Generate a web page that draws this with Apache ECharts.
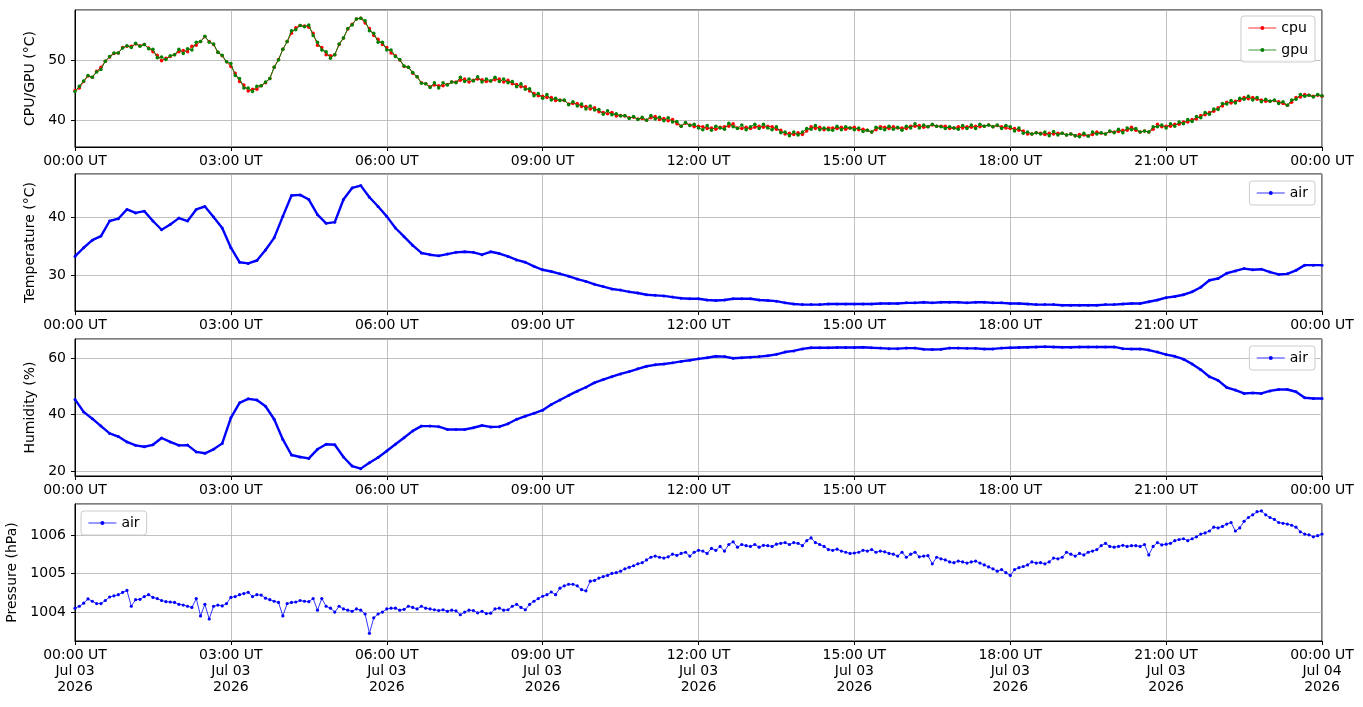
<!DOCTYPE html>
<html>
<head>
<meta charset="utf-8">
<script src="https://cdn.jsdelivr.net/npm/echarts@6/dist/echarts.min.js"></script>
<style>
html, body { margin: 0; padding: 0; background: #fff; }
#main { width: 1363px; height: 707px; }
</style>
</head>
<body>
<div id="main"></div>
<script>
// sample spacing in hours
var fiveMin = 5 / 60;
var tenMin = 10 / 60;

// x ticks
var tickHours = [0, 3, 6, 9, 12, 15, 18, 21, 24];
var timeLabels = ['00:00 UT', '03:00 UT', '06:00 UT', '09:00 UT', '12:00 UT', '15:00 UT', '18:00 UT', '21:00 UT', '00:00 UT'];
var dateLabels = ['Jul 03', 'Jul 03', 'Jul 03', 'Jul 03', 'Jul 03', 'Jul 03', 'Jul 03', 'Jul 03', 'Jul 04'];
var yearLabel = '2026';

// cpu temperature, one value per 5 minutes (one row per hour)
var cpu = [
    45.0,45.4,46.5,47.4,47.2,48.2,48.9,49.9,50.6,51.2,51.3,52.2,
    52.4,52.4,52.8,52.5,52.7,52.1,51.5,50.9,50.0,50.4,50.7,51.0,
    51.5,51.7,51.5,52.4,52.6,53.2,54.0,53.2,52.7,51.4,50.8,49.8,
    49.0,47.9,46.5,45.9,44.9,45.2,45.2,45.8,46.3,47.0,48.9,50.2,
    51.9,53.2,54.6,55.5,55.9,55.8,55.6,54.6,52.6,52.2,51.0,50.8,
    51.0,52.7,53.8,55.3,56.1,57.0,57.1,56.3,55.4,54.2,53.6,52.7,
    52.2,51.3,50.8,50.1,49.0,48.9,47.9,47.3,46.3,46.1,45.6,45.9,
    45.8,45.8,46.0,46.4,46.4,46.7,46.9,46.4,46.7,46.9,46.8,46.5,
    46.6,46.8,46.9,46.4,46.7,46.1,46.0,45.6,45.6,44.9,44.5,44.1,
    44.0,43.8,43.8,43.3,43.4,43.3,42.7,42.8,42.8,42.3,42.3,41.9,
    42.1,41.4,41.3,41.1,41.3,40.7,40.8,40.7,40.4,40.5,40.2,40.3,
    40.0,40.4,40.6,40.1,40.3,39.9,40.1,39.4,39.0,39.5,39.2,38.9,
    39.0,38.9,38.6,38.7,38.5,38.8,38.9,39.0,39.4,38.7,38.6,38.8,
    38.6,38.8,39.0,38.8,39.0,38.9,38.5,38.3,37.7,37.8,37.6,37.9,
    37.6,38.2,38.9,38.6,38.8,38.4,38.7,38.7,38.6,38.8,38.5,38.7,
    38.8,38.4,38.5,38.3,38.0,38.4,38.9,38.8,38.6,38.9,38.7,38.7,
    38.6,39.0,39.0,39.1,38.8,38.9,39.2,39.0,39.0,39.0,38.6,38.7,
    38.9,38.7,38.9,38.8,39.0,38.9,39.0,39.2,38.9,39.1,38.9,38.7,
    38.6,38.6,38.3,38.2,37.7,37.7,37.9,37.8,37.6,37.8,37.7,37.8,
    37.8,37.5,37.7,37.4,37.6,37.5,37.4,37.6,38.0,37.8,37.7,38.1,
    38.0,38.1,38.3,38.3,38.8,38.3,38.0,38.2,38.0,38.5,39.3,38.9,
    39.0,39.0,39.3,39.3,39.7,39.7,40.1,40.2,40.8,40.9,41.3,41.5,
    42.1,42.4,43.0,42.9,43.2,43.3,43.8,43.6,43.8,43.5,43.4,43.2,
    43.2,43.3,43.1,42.8,42.5,43.0,43.8,43.9,44.3,44.2,44.0,44.2,
    44.0
];

// gpu temperature, one value per 5 minutes
var gpu = [
    44.8,45.7,46.6,47.5,47.2,48.1,48.5,49.9,50.7,51.3,51.3,52.1,
    52.5,52.2,52.9,52.4,52.7,52.0,51.9,50.5,50.6,50.2,50.8,51.0,
    51.9,51.2,52.0,51.8,53.1,53.2,54.1,53.1,52.8,51.4,50.9,49.8,
    49.5,47.5,47.0,45.4,45.4,44.8,45.7,45.8,46.4,47.0,48.9,50.1,
    51.9,53.2,55.0,55.2,55.9,55.7,56.0,54.2,53.1,51.8,51.5,50.4,
    51.0,52.8,53.8,55.4,56.0,57.0,57.1,56.7,55.0,54.6,53.1,53.1,
    51.8,51.8,50.7,50.2,49.1,48.9,48.0,47.3,46.2,46.1,45.5,46.3,
    45.4,46.3,45.9,46.4,46.3,47.2,46.5,46.9,46.6,47.3,46.4,46.9,
    46.6,47.2,46.5,46.9,46.3,46.5,45.6,46.1,45.2,45.3,44.1,44.5,
    43.7,44.3,43.4,43.7,43.3,43.4,42.6,43.1,42.4,42.7,41.9,42.4,
    41.7,41.8,41.0,41.6,40.9,41.1,40.7,40.8,40.3,40.6,40.1,40.5,
    40.0,40.8,40.2,40.5,39.9,40.4,39.7,39.8,39.0,39.6,39.1,39.3,
    38.7,38.4,39.1,38.3,39.0,38.7,38.5,39.5,38.9,38.6,39.2,38.4,
    38.9,39.3,38.6,39.3,38.7,38.4,38.9,37.9,38.0,37.4,38.0,37.5,
    38.0,38.6,38.5,39.1,38.4,38.7,38.4,38.3,39.0,38.4,38.9,38.7,
    38.4,38.7,38.1,38.3,38.0,38.8,38.6,38.4,39.0,38.5,38.8,38.3,
    39.0,38.7,39.4,38.7,39.2,38.9,39.3,39.0,38.9,38.6,38.9,38.7,
    38.5,39.1,38.6,39.2,38.6,39.3,39.0,39.2,38.9,39.2,38.6,39.1,
    38.9,38.2,38.7,37.8,38.0,37.7,37.9,37.7,38.0,37.4,38.1,37.5,
    37.8,37.5,37.7,37.4,37.2,37.8,37.3,38.0,37.7,37.9,37.7,38.2,
    37.9,38.5,37.9,38.7,38.4,38.6,38.0,38.2,38.0,38.9,38.9,39.2,
    38.7,39.4,39.0,39.7,39.4,40.1,39.8,40.6,40.4,41.3,41.0,41.9,
    41.8,42.8,42.7,43.3,42.9,43.7,43.5,44.0,43.4,43.8,43.1,43.5,
    43.2,43.4,42.8,43.1,42.5,43.4,43.5,44.3,44.0,44.2,43.9,44.3,
    44.1
];

// air temperature, one value per 10 minutes
var airTemp = [
    33.2,34.7,36.0,36.7,39.3,39.7,
    41.3,40.7,41.0,39.3,37.8,38.7,
    39.8,39.3,41.3,41.8,40.0,38.1,
    34.7,32.2,32.0,32.5,34.3,36.4,
    40.1,43.7,43.8,43.0,40.4,38.9,
    39.1,43.0,45.0,45.4,43.4,41.8,
    40.1,38.1,36.6,35.1,33.8,33.5,
    33.3,33.6,33.9,34.0,33.9,33.5,
    34.0,33.7,33.2,32.6,32.2,31.5,
    30.9,30.6,30.2,29.8,29.3,28.9,
    28.4,28.0,27.6,27.4,27.1,26.9,
    26.6,26.5,26.4,26.2,26.0,25.9,
    25.9,25.7,25.6,25.7,25.9,25.9,
    25.9,25.7,25.6,25.5,25.2,25.0,
    24.9,24.9,24.9,25.0,25.0,25.0,
    25.0,25.0,25.0,25.1,25.1,25.1,
    25.2,25.2,25.3,25.2,25.3,25.3,
    25.3,25.2,25.3,25.3,25.2,25.2,
    25.1,25.1,25.0,24.9,24.9,24.9,
    24.8,24.8,24.8,24.8,24.8,24.9,
    24.9,25.0,25.1,25.1,25.4,25.7,
    26.1,26.3,26.6,27.1,27.9,29.1,
    29.4,30.3,30.7,31.1,30.9,31.0,
    30.5,30.1,30.2,30.8,31.7,31.7,
    31.7
];

// relative humidity, one value per 10 minutes
var airHum = [
    45.4,41.0,38.6,36.0,33.4,32.3,
    30.4,29.2,28.7,29.4,31.8,30.4,
    29.2,29.3,26.9,26.4,27.8,29.9,
    38.9,44.2,45.6,45.2,43.0,38.4,
    31.3,25.8,25.1,24.6,27.8,29.6,
    29.4,25.1,21.9,21.0,23.1,24.9,
    27.2,29.6,31.9,34.3,36.0,36.0,
    35.8,34.8,34.8,34.8,35.4,36.2,
    35.7,35.8,36.8,38.4,39.5,40.5,
    41.6,43.6,45.2,46.8,48.3,49.7,
    51.3,52.4,53.4,54.4,55.2,56.2,
    57.1,57.6,57.9,58.3,58.8,59.2,
    59.7,60.1,60.6,60.5,59.9,60.1,
    60.3,60.5,60.8,61.3,62.1,62.5,
    63.2,63.6,63.6,63.6,63.7,63.7,
    63.7,63.8,63.6,63.5,63.3,63.3,
    63.5,63.5,63.1,63.0,63.1,63.5,
    63.5,63.4,63.4,63.2,63.2,63.5,
    63.6,63.7,63.8,63.9,64.0,63.9,
    63.8,63.8,63.9,63.9,63.9,63.9,
    63.9,63.3,63.2,63.2,62.8,62.1,
    61.2,60.6,59.6,57.9,55.9,53.4,
    52.1,49.6,48.7,47.5,47.7,47.5,
    48.4,48.9,48.9,48.1,46.0,45.7,
    45.7
];

// air pressure, one value per 5 minutes
var airPres = [
    1004.10,1004.15,1004.23,1004.34,1004.28,1004.22,1004.22,1004.30,1004.39,1004.42,1004.45,1004.51,
    1004.56,1004.15,1004.32,1004.33,1004.40,1004.45,1004.38,1004.35,1004.30,1004.27,1004.26,1004.25,
    1004.20,1004.18,1004.15,1004.12,1004.35,1003.90,1004.20,1003.82,1004.15,1004.18,1004.16,1004.22,
    1004.38,1004.40,1004.45,1004.48,1004.51,1004.40,1004.45,1004.44,1004.36,1004.32,1004.28,1004.25,
    1003.90,1004.22,1004.25,1004.26,1004.30,1004.28,1004.27,1004.35,1004.05,1004.35,1004.15,1004.10,
    1004.00,1004.15,1004.08,1004.05,1004.02,1004.08,1004.05,1003.95,1003.45,1003.85,1003.95,1004.00,
    1004.08,1004.10,1004.10,1004.05,1004.07,1004.15,1004.12,1004.08,1004.15,1004.10,1004.08,1004.06,
    1004.04,1004.06,1004.02,1004.05,1004.03,1003.93,1004.00,1004.05,1004.04,1003.98,1004.02,1003.96,
    1003.97,1004.08,1004.10,1004.05,1004.06,1004.15,1004.20,1004.12,1004.06,1004.20,1004.28,1004.35,
    1004.41,1004.45,1004.52,1004.45,1004.62,1004.68,1004.72,1004.72,1004.68,1004.58,1004.55,1004.80,
    1004.82,1004.88,1004.92,1004.95,1005.00,1005.02,1005.06,1005.12,1005.16,1005.20,1005.25,1005.28,
    1005.35,1005.42,1005.45,1005.42,1005.40,1005.43,1005.50,1005.47,1005.52,1005.55,1005.45,1005.55,
    1005.60,1005.58,1005.52,1005.65,1005.60,1005.70,1005.58,1005.75,1005.82,1005.68,1005.75,1005.72,
    1005.70,1005.75,1005.68,1005.73,1005.72,1005.70,1005.76,1005.78,1005.80,1005.75,1005.80,1005.78,
    1005.72,1005.85,1005.92,1005.80,1005.75,1005.70,1005.62,1005.60,1005.63,1005.58,1005.55,1005.52,
    1005.53,1005.55,1005.60,1005.58,1005.62,1005.55,1005.58,1005.56,1005.52,1005.50,1005.45,1005.55,
    1005.42,1005.50,1005.55,1005.43,1005.45,1005.46,1005.25,1005.42,1005.38,1005.35,1005.30,1005.28,
    1005.32,1005.30,1005.27,1005.30,1005.32,1005.27,1005.22,1005.17,1005.12,1005.06,1005.10,1005.02,
    1004.95,1005.10,1005.15,1005.18,1005.22,1005.30,1005.27,1005.28,1005.25,1005.30,1005.40,1005.38,
    1005.42,1005.55,1005.50,1005.45,1005.52,1005.48,1005.55,1005.58,1005.62,1005.72,1005.78,1005.70,
    1005.68,1005.70,1005.73,1005.70,1005.72,1005.72,1005.70,1005.75,1005.48,1005.70,1005.80,1005.74,
    1005.76,1005.78,1005.85,1005.88,1005.90,1005.85,1005.90,1005.95,1006.02,1006.05,1006.10,1006.20,
    1006.18,1006.22,1006.28,1006.32,1006.10,1006.18,1006.35,1006.45,1006.52,1006.60,1006.62,1006.52,
    1006.45,1006.40,1006.32,1006.30,1006.28,1006.25,1006.20,1006.08,1006.02,1006.00,1005.95,1005.98,
    1006.02
];

function pairs(vals, step) {
    return vals.map(function (v, i) { return [i * step, v]; });
}

var font = 'DejaVu Sans';
var panelTops = [10, 174, 339, 504];

function xAxisFor(idx, last) {
    return {
        type: 'value', gridIndex: idx, min: 0, max: 24, interval: 3,
        axisLine: { show: true, lineStyle: { color: '#000', width: 1 } },
        axisTick: { show: true, inside: false, length: 4, lineStyle: { color: '#000' } },
        splitLine: { show: true, lineStyle: { color: '#b0b0b0', width: 0.8 } },
        axisLabel: {
            color: '#000', fontFamily: font, fontSize: 14, margin: 6, lineHeight: 16,
            formatter: function (v) {
                var k = tickHours.indexOf(v);
                if (k < 0) return '';
                if (!last) return timeLabels[k];
                return timeLabels[k] + '\n' + dateLabels[k] + '\n' + yearLabel;
            }
        }
    };
}

function yAxisFor(idx, name, lo, hi, split, gap) {
    return {
        type: 'value', gridIndex: idx, min: lo, max: hi, splitNumber: split,
        name: name, nameLocation: 'middle', nameGap: gap,
        nameTextStyle: { color: '#000', fontFamily: font, fontSize: 14 },
        axisLine: { show: true, lineStyle: { color: '#000', width: 1 } },
        axisTick: { show: true, inside: false, length: 4, lineStyle: { color: '#000' } },
        splitLine: { show: true, lineStyle: { color: '#b0b0b0', width: 0.8 } },
        axisLabel: {
            color: '#000', fontFamily: font, fontSize: 14, margin: 9,
            showMinLabel: false, showMaxLabel: false,
            formatter: function (v) { return String(v); }
        }
    };
}

function lineSeries(name, color, data, idx, width, size, z) {
    return {
        name: name, type: 'line', xAxisIndex: idx, yAxisIndex: idx, data: data,
        symbol: 'circle', symbolSize: size, showAllSymbol: true, z: z,
        lineStyle: { color: color, width: width },
        itemStyle: { color: color },
        emphasis: { disabled: true }, silent: true, animation: false
    };
}

function legendFor(names, pos) {
    return Object.assign({
        data: names, orient: 'vertical', selectedMode: false,
        backgroundColor: 'rgba(255,255,255,0.8)', borderColor: '#cccccc', borderWidth: 1, borderRadius: 3,
        padding: [5, 7, 5, 7], itemGap: 8, itemWidth: 28, itemHeight: 5,
        lineStyle: { width: 0.8 },
        textStyle: { color: '#000', fontFamily: font, fontSize: 14 }
    }, pos);
}

var chart = echarts.init(document.getElementById('main'));
var option = {
    backgroundColor: '#fff',
    animation: false,
    grid: panelTops.map(function (t) {
        return {
            left: 75, right: 41, top: t, height: 137, containLabel: false, outerBoundsMode: 'none',
            show: true, borderColor: '#000', borderWidth: 1, backgroundColor: 'transparent'
        };
    }),
    xAxis: [xAxisFor(0, false), xAxisFor(1, false), xAxisFor(2, false), xAxisFor(3, true)],
    yAxis: [
        yAxisFor(0, 'CPU/GPU (°C)', 35.5, 58.5, 2, 34),
        yAxisFor(1, 'Temperature (°C)', 23.8, 47.4, 2, 36),
        yAxisFor(2, 'Humidity (%)', 18.4, 66.7, 2, 35),
        yAxisFor(3, 'Pressure (hPa)', 1003.25, 1006.8, 3, 53)
    ],
    legend: [
        legendFor(['cpu', 'gpu'], { right: 48, top: 16 }),
        legendFor(['air'], { right: 48, top: 181 }),
        legendFor(['air'], { right: 48, top: 346 }),
        legendFor(['air'], { left: 81, top: 511 })
    ],
    series: [
        lineSeries('cpu', '#ff0000', pairs(cpu, fiveMin), 0, 1, 3.5, 2),
        lineSeries('gpu', '#008000', pairs(gpu, fiveMin), 0, 1, 3.5, 3),
        lineSeries('air', '#0000ff', pairs(airTemp, tenMin), 1, 2.4, 3, 2),
        lineSeries('air', '#0000ff', pairs(airHum, tenMin), 2, 2.4, 3, 2),
        lineSeries('air', '#0000ff', pairs(airPres, fiveMin), 3, 0.8, 3.2, 2)
    ]
};
chart.setOption(option);
</script>
</body>
</html>
